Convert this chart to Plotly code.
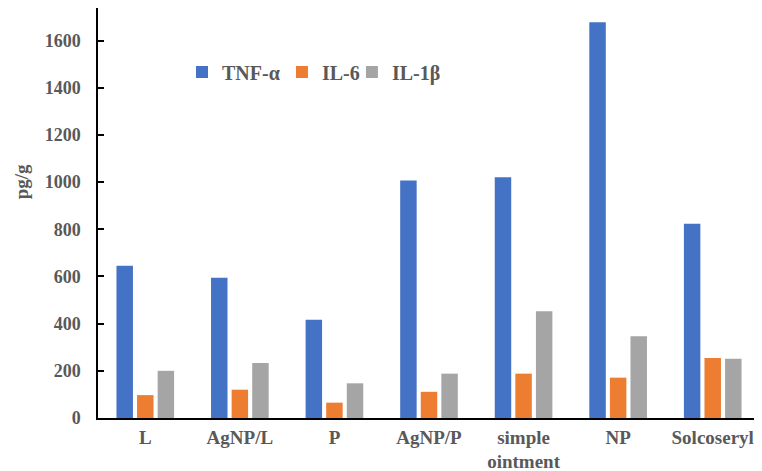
import plotly.graph_objects as go

categories = ["L", "AgNP/L", "P", "AgNP/P", "simple<br>ointment", "NP", "Solcoseryl"]
tnf_alpha = [645, 594, 416, 1007, 1021, 1678, 823]
il_6 = [97, 120, 65, 111, 188, 171, 254]
il_1beta = [200, 233, 147, 188, 452, 347, 251]
series_names = ["TNF-α", "IL-6", "IL-1β"]
y_ticks = [0, 200, 400, 600, 800, 1000, 1200, 1400, 1600]
y_title = "pg/g"

colors = ["#4472C4", "#ED7D31", "#A5A5A5"]
legend_ids = ["legend", "legend2", "legend3"]
legend_x = [0.1269, 0.2779, 0.3836]
font_family = "Liberation Serif"
gray = "#595959"

fig = go.Figure()
for name, vals, col, lid in zip(series_names, [tnf_alpha, il_6, il_1beta], colors, legend_ids):
    fig.add_trace(go.Bar(x=categories, y=vals, name=name, legend=lid,
                         marker=dict(color=col, line=dict(width=0))))

legend_style = dict(orientation="h", y=0.844, xanchor="left", yanchor="middle",
                    bgcolor="rgba(0,0,0,0)",
                    font=dict(family=font_family, size=20, color=gray, weight="bold"),
                    itemwidth=30)

# the page body has an 8px margin, so the figure is sized to fill the rest of the window
fig.update_layout(
    width=754, height=463,
    margin=dict(l=90, r=2, t=0, b=53),
    paper_bgcolor="white", plot_bgcolor="white",
    barmode="group", bargap=0.347, bargroupgap=0.2,
    font=dict(family=font_family, size=18, color=gray),
    showlegend=True,
)
for lid, lx in zip(legend_ids, legend_x):
    fig.update_layout({lid: dict(x=lx, **legend_style)})

fig.add_annotation(text=y_title, xref="paper", yref="paper", x=-0.1163, y=0.575,
                   xanchor="center", yanchor="middle", textangle=-90, showarrow=False,
                   borderpad=0,
                   font=dict(family=font_family, size=19, color=gray, weight="bold"))

fig.update_xaxes(
    automargin=False,
    showline=True, linecolor="black", linewidth=1.5,
    ticks="", showgrid=False,
    tickfont=dict(family=font_family, size=19, color=gray, weight="bold"),
    ticklabelstandoff=1,
)
fig.update_yaxes(
    automargin=False,
    range=[0, 1738], tickvals=y_ticks, ticktext=[str(v) for v in y_ticks],
    showline=True, linecolor="black", linewidth=1.5,
    ticks="inside", ticklen=6, tickcolor="black", tickwidth=1.5,
    showgrid=False, zeroline=False,
    tickfont=dict(family=font_family, size=18, color=gray, weight="bold"),
    ticklabelstandoff=12,
)
fig.write_html("out.html")
